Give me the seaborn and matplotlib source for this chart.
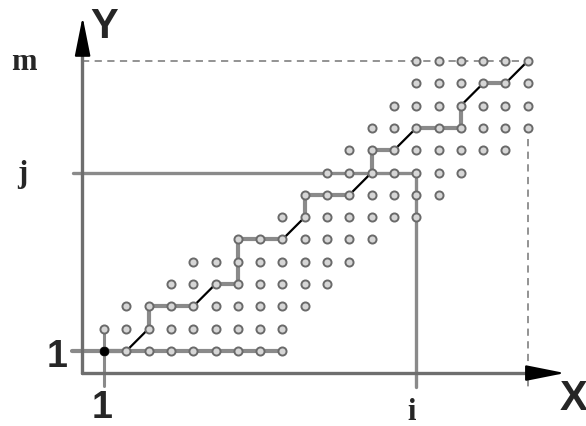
import numpy as np
import pandas as pd
import matplotlib
matplotlib.use("Agg")
import matplotlib.pyplot as plt
import seaborn as sns

## rejilla de puntos (columnas por fila) y camino de alineamiento
filas = list(range(1, 15))
col_inicio = [1, 1, 2, 4, 5, 7, 9, 10, 11, 12, 13, 14, 15, 15]
col_fin = [9, 9, 10, 11, 12, 13, 15, 16, 17, 19, 20, 20, 20, 20]

camino_x = [1, 2, 3, 3, 4, 5, 6, 7, 7, 7, 8, 9, 10, 10, 11, 12, 13, 13, 14, 15, 16, 17, 17, 18, 19, 20]
camino_y = [1, 1, 2, 3, 3, 3, 4, 4, 5, 6, 6, 6, 7, 8, 8, 8, 9, 10, 10, 11, 11, 11, 12, 13, 13, 14]

i_val = 15
j_val = 9
m_val = 14
n_val = 20

puntos = pd.DataFrame(
    [(c, f) for f, a, b in zip(filas, col_inicio, col_fin) for c in range(a, b + 1)],
    columns=["x", "y"],
)

sns.set_style("white")
fig = plt.figure(figsize=(5.86, 4.27), dpi=100)
ax = fig.add_axes([0, 0, 1, 1])
ax.set_xlim(-3.664, 22.61)
ax.set_ylim(-2.363, 16.78)
ax.axis("off")

gris = "#8a8a8a"

# lineas guia de 1, i, j
ax.plot([-0.43, 9], [1, 1], color=gris, lw=3, zorder=1)
ax.plot([1, 1], [2, -0.57], color=gris, lw=2.2, zorder=1)
ax.plot([-0.39, i_val], [j_val, j_val], color=gris, lw=2.4, zorder=1)
ax.plot([i_val, i_val], [j_val, -0.6], color=gris, lw=2.4, zorder=1)

# lineas discontinuas de m y n
ax.plot([0, n_val], [m_val, m_val], color=gris, lw=1.3, ls=(0, (4, 3)), zorder=1)
ax.plot([n_val, n_val], [10.5, -0.61], color=gris, lw=1.3, ls=(0, (4, 3)), zorder=1)

# camino: tramos rectos grises, diagonales negras
for k in range(len(camino_x) - 1):
    x0, x1 = camino_x[k], camino_x[k + 1]
    y0, y1 = camino_y[k], camino_y[k + 1]
    if x0 != x1 and y0 != y1:
        ax.plot([x0, x1], [y0, y1], color="black", lw=1.6, zorder=2)
    else:
        ax.plot([x0, x1], [y0, y1], color=gris, lw=3, zorder=1.5)

# ejes
ax.plot([0, 0], [0, 14.9], color="#6e6e6e", lw=2.4, zorder=1)
ax.plot([0, 20.6], [0, 0], color="#6e6e6e", lw=2.4, zorder=1)
flecha = "-|>,head_length=1.1,head_width=0.22"
ax.annotate("", xy=(0.04, 15.98), xytext=(0.04, 14.5),
            arrowprops=dict(arrowstyle=flecha, color="black", lw=1.5,
                            mutation_scale=22, shrinkA=0, shrinkB=0))
ax.annotate("", xy=(21.67, 0.01), xytext=(20.3, 0.01),
            arrowprops=dict(arrowstyle=flecha, color="black", lw=1.5,
                            mutation_scale=22, shrinkA=0, shrinkB=0))

# puntos
sns.scatterplot(data=puntos, x="x", y="y", ax=ax, s=34, color="#d6d6d6",
                edgecolor="#6a6a6a", linewidth=1.4, zorder=3, legend=False)
sns.scatterplot(x=[1], y=[1], ax=ax, s=38, color="black", edgecolor="black", zorder=4)

# textos
serif = dict(family="Liberation Serif", weight="bold", fontsize=22)
sans = dict(family="Liberation Sans", weight="bold")
ax.text(-2.59, 13.65, "m", ha="center", va="baseline", **serif)
ax.text(-2.68, 8.62, "j", ha="center", va="baseline", **serif)
ax.text(14.81, -2.05, "i", ha="center", va="baseline", **serif)
ax.text(-1.11, 0.33, "1", ha="center", va="baseline", fontsize=27, **sans)
ax.text(0.91, -1.96, "1", ha="center", va="baseline", fontsize=27, **sans)
ax.text(1.0, 15.08, "Y", ha="center", va="baseline", fontsize=30, **sans)
ax.text(22.03, -1.6, "X", ha="center", va="baseline", fontsize=30, **sans)

plt.savefig("out.png", dpi=100)
